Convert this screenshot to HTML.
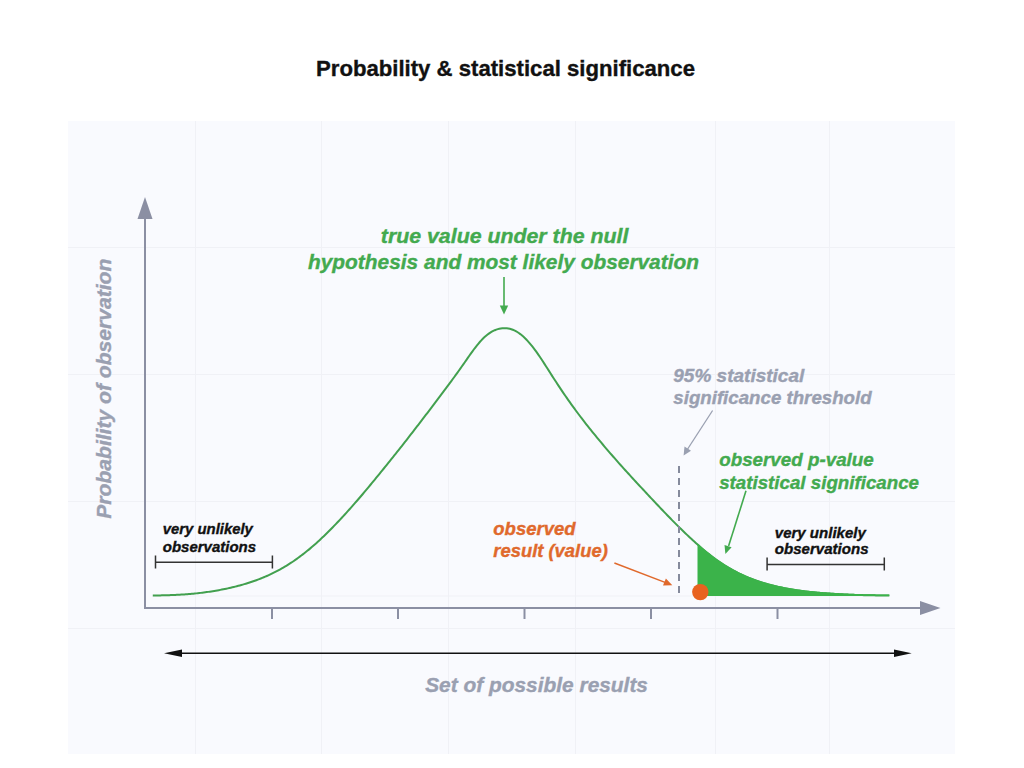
<!DOCTYPE html>
<html><head><meta charset="utf-8"><style>
html,body{margin:0;padding:0;background:#fff;}
svg{display:block;}
text{font-family:"Liberation Sans",sans-serif;font-weight:bold;font-style:italic;stroke:currentColor;stroke-width:0.35px;}
</style></head><body>
<svg width="1024" height="768" viewBox="0 0 1024 768">
<rect x="0" y="0" width="1024" height="768" fill="#ffffff"/>
<rect x="68" y="121" width="887" height="633" fill="#f9fafe"/>
<g stroke="#f0f1f6" stroke-width="1" fill="none">
<path d="M195.5,121 V754 M321.5,121 V754 M448.5,121 V754 M575.5,121 V754 M715.5,121 V754 M829.5,121 V754"/>
<path d="M68,247.5 H955 M68,374.5 H955 M68,501.5 H955 M68,628.5 H955 M152,596 H890"/>
</g>
<text x="316" y="76" font-size="21.5" fill="#111" color="#111" style="font-style:normal" lengthAdjust="spacingAndGlyphs" textLength="379">Probability &amp; statistical significance</text>
<!-- axes -->
<g stroke="#8b8fa3" stroke-width="2" fill="none">
<path d="M145,608 V216"/>
<path d="M144,608 H921"/>
<path d="M272,608 V619 M398,608 V619 M524.5,608 V619 M651,608 V619 M777.5,608 V619"/>
</g>
<polygon points="145,197 137.5,219 152.5,219" fill="#8b8fa3"/>
<polygon points="940.5,608 920,601 920,615" fill="#8b8fa3"/>
<text transform="translate(110.5,518.7) rotate(-90)" font-size="20" fill="#9aa0b1" color="#9aa0b1" lengthAdjust="spacingAndGlyphs" textLength="260">Probability of observation</text>
<!-- fill & curve -->
<path d="M152.8,595.57 L154.3,595.54 L155.8,595.51 L157.3,595.47 L158.8,595.44 L160.3,595.40 L161.8,595.36 L163.3,595.32 L164.8,595.28 L166.3,595.24 L167.8,595.19 L169.3,595.14 L170.8,595.09 L172.3,595.03 L173.8,594.97 L175.3,594.91 L176.8,594.84 L178.3,594.76 L179.8,594.68 L181.3,594.60 L182.8,594.51 L184.3,594.41 L185.8,594.30 L187.3,594.19 L188.8,594.08 L190.3,593.95 L191.8,593.82 L193.3,593.68 L194.8,593.54 L196.3,593.38 L197.8,593.22 L199.3,593.05 L200.8,592.88 L202.3,592.69 L203.8,592.50 L205.3,592.30 L206.8,592.10 L208.3,591.88 L209.8,591.66 L211.3,591.43 L212.8,591.19 L214.3,590.94 L215.8,590.69 L217.3,590.43 L218.8,590.16 L220.3,589.88 L221.8,589.59 L223.3,589.30 L224.8,588.99 L226.3,588.68 L227.8,588.36 L229.3,588.03 L230.8,587.69 L232.3,587.34 L233.8,586.98 L235.3,586.61 L236.8,586.23 L238.3,585.84 L239.8,585.44 L241.3,585.03 L242.8,584.60 L244.3,584.16 L245.8,583.72 L247.3,583.26 L248.8,582.78 L250.3,582.30 L251.8,581.80 L253.3,581.28 L254.8,580.76 L256.3,580.22 L257.8,579.66 L259.3,579.09 L260.8,578.50 L262.3,577.90 L263.8,577.28 L265.3,576.65 L266.8,575.99 L268.3,575.33 L269.8,574.64 L271.3,573.93 L272.8,573.21 L274.3,572.47 L275.8,571.70 L277.3,570.92 L278.8,570.12 L280.3,569.30 L281.8,568.46 L283.3,567.59 L284.8,566.71 L286.3,565.81 L287.8,564.88 L289.3,563.93 L290.8,562.96 L292.3,561.97 L293.8,560.96 L295.3,559.92 L296.8,558.86 L298.3,557.78 L299.8,556.68 L301.3,555.56 L302.8,554.41 L304.3,553.24 L305.8,552.05 L307.3,550.84 L308.8,549.61 L310.3,548.36 L311.8,547.08 L313.3,545.79 L314.8,544.47 L316.3,543.13 L317.8,541.78 L319.3,540.40 L320.8,539.01 L322.3,537.59 L323.8,536.16 L325.3,534.72 L326.8,533.25 L328.3,531.77 L329.8,530.27 L331.3,528.75 L332.8,527.22 L334.3,525.67 L335.8,524.11 L337.3,522.53 L338.8,520.94 L340.3,519.34 L341.8,517.73 L343.3,516.10 L344.8,514.47 L346.3,512.82 L347.8,511.17 L349.3,509.50 L350.8,507.82 L352.3,506.13 L353.8,504.42 L355.3,502.71 L356.8,500.99 L358.3,499.25 L359.8,497.50 L361.3,495.75 L362.8,493.98 L364.3,492.20 L365.8,490.42 L367.3,488.62 L368.8,486.82 L370.3,485.01 L371.8,483.20 L373.3,481.37 L374.8,479.55 L376.3,477.72 L377.8,475.88 L379.3,474.04 L380.8,472.20 L382.3,470.35 L383.8,468.50 L385.3,466.64 L386.8,464.78 L388.3,462.92 L389.8,461.06 L391.3,459.19 L392.8,457.32 L394.3,455.45 L395.8,453.57 L397.3,451.69 L398.8,449.80 L400.3,447.91 L401.8,446.01 L403.3,444.10 L404.8,442.19 L406.3,440.27 L407.8,438.35 L409.3,436.42 L410.8,434.48 L412.3,432.55 L413.8,430.60 L415.3,428.66 L416.8,426.71 L418.3,424.77 L419.8,422.81 L421.3,420.86 L422.8,418.90 L424.3,416.94 L425.8,414.98 L427.3,413.02 L428.8,411.05 L430.3,409.08 L431.8,407.11 L433.3,405.14 L434.8,403.16 L436.3,401.18 L437.8,399.20 L439.3,397.21 L440.8,395.22 L442.3,393.22 L443.8,391.22 L445.3,389.20 L446.8,387.19 L448.3,385.16 L449.8,383.13 L451.3,381.08 L452.8,379.03 L454.3,376.97 L455.8,374.90 L457.3,372.81 L458.8,370.71 L460.3,368.60 L461.8,366.48 L463.3,364.35 L464.8,362.21 L466.3,360.06 L467.8,357.90 L469.3,355.76 L470.8,353.64 L472.3,351.55 L473.8,349.51 L475.3,347.53 L476.8,345.62 L478.3,343.79 L479.8,342.03 L481.3,340.37 L482.8,338.81 L484.3,337.35 L485.8,336.01 L487.3,334.77 L488.8,333.64 L490.3,332.62 L491.8,331.71 L493.3,330.90 L494.8,330.20 L496.3,329.60 L497.8,329.11 L499.3,328.71 L500.8,328.42 L502.3,328.23 L503.8,328.13 L505.3,328.14 L506.8,328.24 L508.3,328.45 L509.8,328.76 L511.3,329.19 L512.8,329.72 L514.3,330.37 L515.8,331.13 L517.3,332.00 L518.8,332.98 L520.3,334.07 L521.8,335.27 L523.3,336.58 L524.8,337.99 L526.3,339.50 L527.8,341.10 L529.3,342.79 L530.8,344.57 L532.3,346.42 L533.8,348.36 L535.3,350.36 L536.8,352.43 L538.3,354.56 L539.8,356.75 L541.3,358.98 L542.8,361.27 L544.3,363.59 L545.8,365.93 L547.3,368.29 L548.8,370.65 L550.3,373.01 L551.8,375.37 L553.3,377.70 L554.8,380.02 L556.3,382.32 L557.8,384.61 L559.3,386.88 L560.8,389.13 L562.3,391.36 L563.8,393.57 L565.3,395.75 L566.8,397.92 L568.3,400.07 L569.8,402.20 L571.3,404.30 L572.8,406.39 L574.3,408.45 L575.8,410.50 L577.3,412.52 L578.8,414.52 L580.3,416.51 L581.8,418.47 L583.3,420.42 L584.8,422.35 L586.3,424.27 L587.8,426.17 L589.3,428.05 L590.8,429.92 L592.3,431.78 L593.8,433.63 L595.3,435.46 L596.8,437.29 L598.3,439.11 L599.8,440.91 L601.3,442.71 L602.8,444.49 L604.3,446.27 L605.8,448.03 L607.3,449.79 L608.8,451.54 L610.3,453.28 L611.8,455.01 L613.3,456.73 L614.8,458.45 L616.3,460.15 L617.8,461.85 L619.3,463.54 L620.8,465.22 L622.3,466.90 L623.8,468.57 L625.3,470.23 L626.8,471.89 L628.3,473.54 L629.8,475.18 L631.3,476.82 L632.8,478.45 L634.3,480.08 L635.8,481.71 L637.3,483.33 L638.8,484.95 L640.3,486.56 L641.8,488.17 L643.3,489.78 L644.8,491.39 L646.3,492.99 L647.8,494.60 L649.3,496.20 L650.8,497.81 L652.3,499.41 L653.8,501.01 L655.3,502.60 L656.8,504.20 L658.3,505.79 L659.8,507.37 L661.3,508.95 L662.8,510.53 L664.3,512.10 L665.8,513.66 L667.3,515.21 L668.8,516.76 L670.3,518.30 L671.8,519.83 L673.3,521.35 L674.8,522.86 L676.3,524.37 L677.8,525.86 L679.3,527.35 L680.8,528.82 L682.3,530.29 L683.8,531.74 L685.3,533.18 L686.8,534.61 L688.3,536.03 L689.8,537.44 L691.3,538.83 L692.8,540.21 L694.3,541.58 L695.8,542.94 L697.3,544.28 L698.8,545.61 L700.3,546.92 L701.8,548.21 L703.3,549.49 L704.8,550.74 L706.3,551.98 L707.8,553.19 L709.3,554.39 L710.8,555.56 L712.3,556.71 L713.8,557.83 L715.3,558.94 L716.8,560.02 L718.3,561.08 L719.8,562.12 L721.3,563.13 L722.8,564.12 L724.3,565.09 L725.8,566.03 L727.3,566.95 L728.8,567.85 L730.3,568.73 L731.8,569.58 L733.3,570.41 L734.8,571.23 L736.3,572.01 L737.8,572.78 L739.3,573.53 L740.8,574.25 L742.3,574.96 L743.8,575.64 L745.3,576.31 L746.8,576.96 L748.3,577.58 L749.8,578.19 L751.3,578.79 L752.8,579.36 L754.3,579.92 L755.8,580.46 L757.3,580.99 L758.8,581.50 L760.3,582.00 L761.8,582.48 L763.3,582.94 L764.8,583.39 L766.3,583.83 L767.8,584.26 L769.3,584.67 L770.8,585.06 L772.3,585.45 L773.8,585.82 L775.3,586.18 L776.8,586.53 L778.3,586.87 L779.8,587.20 L781.3,587.52 L782.8,587.82 L784.3,588.12 L785.8,588.41 L787.3,588.69 L788.8,588.96 L790.3,589.22 L791.8,589.47 L793.3,589.71 L794.8,589.95 L796.3,590.18 L797.8,590.40 L799.3,590.61 L800.8,590.82 L802.3,591.02 L803.8,591.21 L805.3,591.39 L806.8,591.57 L808.3,591.74 L809.8,591.91 L811.3,592.06 L812.8,592.22 L814.3,592.36 L815.8,592.51 L817.3,592.64 L818.8,592.77 L820.3,592.90 L821.8,593.02 L823.3,593.13 L824.8,593.24 L826.3,593.35 L827.8,593.46 L829.3,593.56 L830.8,593.66 L832.3,593.76 L833.8,593.85 L835.3,593.94 L836.8,594.03 L838.3,594.12 L839.8,594.20 L841.3,594.28 L842.8,594.36 L844.3,594.44 L845.8,594.51 L847.3,594.58 L848.8,594.65 L850.3,594.71 L851.8,594.77 L853.3,594.83 L854.8,594.89 L856.3,594.94 L857.8,594.99 L859.3,595.04 L860.8,595.08 L862.3,595.12 L863.8,595.16 L865.3,595.20 L866.8,595.23 L868.3,595.26 L869.8,595.29 L871.3,595.32 L872.8,595.34 L874.3,595.36 L875.8,595.38 L877.3,595.40 L878.8,595.42 L880.3,595.43 L881.8,595.45 L883.3,595.46 L884.8,595.47 L886.3,595.49 L887.8,595.50 L889.3,595.51" stroke="#42a04f" stroke-width="2" fill="none"/>
<path d="M697.5,596 L697.5,543.46 L697.8,543.72 L699.3,545.05 L700.8,546.35 L702.3,547.64 L703.8,548.91 L705.3,550.16 L706.8,551.38 L708.3,552.59 L709.8,553.78 L711.3,554.94 L712.8,556.08 L714.3,557.20 L715.8,558.30 L717.3,559.38 L718.8,560.43 L720.3,561.46 L721.8,562.46 L723.3,563.44 L724.8,564.40 L726.3,565.34 L727.8,566.25 L729.3,567.15 L730.8,568.02 L732.3,568.86 L733.8,569.69 L735.3,570.49 L736.8,571.27 L738.3,572.03 L739.8,572.77 L741.3,573.49 L742.8,574.19 L744.3,574.87 L745.8,575.53 L747.3,576.17 L748.8,576.79 L750.3,577.39 L751.8,577.98 L753.3,578.55 L754.8,579.10 L756.3,579.64 L757.8,580.16 L759.3,580.67 L760.8,581.16 L762.3,581.63 L763.8,582.09 L765.3,582.54 L766.8,582.97 L768.3,583.39 L769.8,583.80 L771.3,584.19 L772.8,584.57 L774.3,584.94 L775.8,585.30 L777.3,585.65 L778.8,585.98 L780.3,586.31 L781.8,586.62 L783.3,586.92 L784.8,587.22 L786.3,587.50 L787.8,587.78 L789.3,588.05 L790.8,588.30 L792.3,588.55 L793.8,588.79 L795.3,589.03 L796.8,589.25 L798.3,589.47 L799.8,589.68 L801.3,589.88 L802.8,590.08 L804.3,590.27 L805.8,590.45 L807.3,590.63 L808.8,590.80 L810.3,590.96 L811.8,591.12 L813.3,591.27 L814.8,591.41 L816.3,591.55 L817.8,591.68 L819.3,591.81 L820.8,591.94 L822.3,592.06 L823.8,592.17 L825.3,592.28 L826.8,592.39 L828.3,592.49 L829.8,592.59 L831.3,592.69 L832.8,592.79 L834.3,592.88 L835.8,592.97 L837.3,593.06 L838.8,593.15 L840.3,593.23 L841.8,593.31 L843.3,593.39 L844.8,593.46 L846.3,593.53 L847.8,593.60 L849.3,593.67 L850.8,593.73 L852.3,593.79 L853.8,593.85 L855.3,593.90 L856.8,593.96 L858.3,594.00 L859.8,594.05 L861.3,594.09 L862.8,594.13 L864.3,594.17 L865.8,594.21 L867.3,594.24 L868.8,594.27 L870.3,594.30 L871.8,594.32 L873.3,594.35 L874.8,594.37 L876.3,594.39 L877.8,594.41 L879.3,594.42 L880.8,594.44 L882.3,594.45 L883.8,594.47 L885.3,594.48 L886.8,594.49 L888.3,594.50 L889.3,594.51 L889.3,596 Z" fill="#3bb34a"/>
<!-- green top text -->
<text x="380.8" y="243" font-size="20" fill="#43aa4f" color="#43aa4f" lengthAdjust="spacingAndGlyphs" textLength="247.6">true value under the null</text>
<text x="308" y="268.8" font-size="20" fill="#43aa4f" color="#43aa4f" lengthAdjust="spacingAndGlyphs" textLength="391">hypothesis and most likely observation</text>
<path d="M504,277 V307" stroke="#43aa4f" stroke-width="1.6"/>
<polygon points="504,314.5 499.8,305.5 508.2,305.5" fill="#43aa4f"/>
<!-- gray threshold -->
<text x="673.3" y="381.5" font-size="17.5" fill="#9aa0b1" color="#9aa0b1" lengthAdjust="spacingAndGlyphs" textLength="131">95% statistical</text>
<text x="673.3" y="404" font-size="17.5" fill="#9aa0b1" color="#9aa0b1" lengthAdjust="spacingAndGlyphs" textLength="198.3">significance threshold</text>
<path d="M712.6,410.5 L687,450" stroke="#9aa0b1" stroke-width="1.3"/>
<polygon points="683.6,455.6 684.5,446.5 691,450.8" fill="#9aa0b1"/>
<path d="M679,466 V593" stroke="#858a9c" stroke-width="2" stroke-dasharray="7,5"/>
<!-- observed p-value -->
<text x="719.2" y="466" font-size="17.5" fill="#43aa4f" color="#43aa4f" lengthAdjust="spacingAndGlyphs" textLength="154.6">observed p-value</text>
<text x="719.2" y="488.8" font-size="17.5" fill="#43aa4f" color="#43aa4f" lengthAdjust="spacingAndGlyphs" textLength="199.8">statistical significance</text>
<path d="M746,490.8 L728.6,546" stroke="#43aa4f" stroke-width="1.6"/>
<polygon points="725.4,554 724.5,545 731.6,547.2" fill="#43aa4f"/>
<!-- orange -->
<text x="493.3" y="534.8" font-size="17.5" fill="#e0692c" color="#e0692c" lengthAdjust="spacingAndGlyphs" textLength="82.3">observed</text>
<text x="493.3" y="557" font-size="17.5" fill="#e0692c" color="#e0692c" lengthAdjust="spacingAndGlyphs" textLength="114.5">result (value)</text>
<path d="M614.4,563 L665,582.4" stroke="#e0692c" stroke-width="1.5"/>
<polygon points="672.3,585.3 663,585.6 665.9,578.5" fill="#e0692c"/>
<circle cx="700.3" cy="592.1" r="8.2" fill="#e8621f"/>
<!-- very unlikely left -->
<text x="162.75" y="533.6" font-size="14.5" fill="#111" color="#111" lengthAdjust="spacingAndGlyphs" textLength="90.1">very unlikely</text>
<text x="162.75" y="551.8" font-size="14.5" fill="#111" color="#111" lengthAdjust="spacingAndGlyphs" textLength="93.3">observations</text>
<path d="M155.5,562.2 H272.4 M155.5,555.5 V568.5 M272.4,555.5 V568.5" stroke="#333" stroke-width="1.5" fill="none"/>
<!-- very unlikely right -->
<text x="774.8" y="537.5" font-size="14.5" fill="#111" color="#111" lengthAdjust="spacingAndGlyphs" textLength="91">very unlikely</text>
<text x="774.8" y="553.9" font-size="14.5" fill="#111" color="#111" lengthAdjust="spacingAndGlyphs" textLength="93.8">observations</text>
<path d="M767.1,564.5 H884.3 M767.1,557.5 V570.5 M884.3,557.5 V570.5" stroke="#333" stroke-width="1.5" fill="none"/>
<!-- long arrow -->
<path d="M180,653.2 H896" stroke="#111" stroke-width="1.5"/>
<polygon points="164,653.2 182,649.5 182,657" fill="#111"/>
<polygon points="911.7,653.2 894,649.5 894,657" fill="#111"/>
<text x="425.2" y="691.7" font-size="20" fill="#9aa0b1" color="#9aa0b1" lengthAdjust="spacingAndGlyphs" textLength="222.8">Set of possible results</text>
</svg>
</body></html>
